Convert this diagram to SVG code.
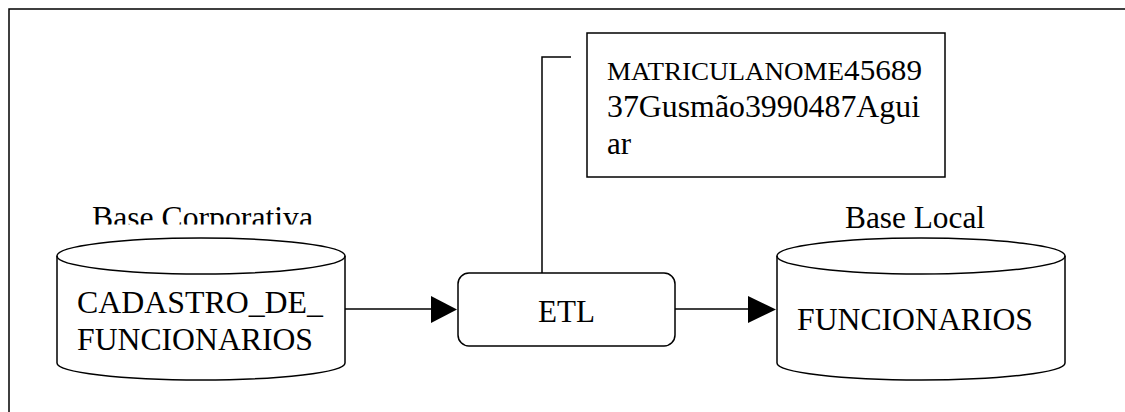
<svg xmlns="http://www.w3.org/2000/svg" width="1125" height="412" viewBox="0 0 1125 412">
<style>
.s{fill:none;stroke:#000;stroke-width:1.5}
.w{fill:#fff;stroke:#000;stroke-width:1.5}
.t{font-family:"Liberation Serif","Times New Roman",serif;fill:#000;font-size:31px}
</style>
<defs>
<clipPath id="clipBC"><rect x="0" y="180" width="400" height="44.5"/></clipPath>
</defs>
<rect x="0" y="0" width="1125" height="412" fill="#fff"/>
<rect id="frame" class="s" x="9" y="9" width="1140" height="430"/>
<g id="connectors">
<line class="s" x1="345" y1="309" x2="432" y2="309"/>
<polygon points="431,296 457,309.5 431,323" fill="#000"/>
<line class="s" x1="675" y1="309" x2="749" y2="309"/>
<polygon points="748,296 776,309.5 748,323" fill="#000"/>
<polyline class="s" points="542,273 542,57 571,57"/>
</g>
<g id="base-corporativa">
<text class="t" x="92" y="228" textLength="221" lengthAdjust="spacingAndGlyphs" clip-path="url(#clipBC)">Base Corporativa</text>
<path class="w" d="M57,256 A144,18 0 0 1 345,256 L345,363 A144,17 0 0 1 57,363 Z"/>
<path class="s" d="M57,256 A144,18 0 0 0 345,256"/>
<text class="t" x="77" y="313" font-size="30" textLength="246" lengthAdjust="spacingAndGlyphs">CADASTRO_DE_</text>
<text class="t" x="77" y="350" font-size="30" textLength="236" lengthAdjust="spacingAndGlyphs">FUNCIONARIOS</text>
</g>
<g id="etl">
<rect class="w" x="458" y="273" width="217" height="73" rx="11"/>
<text class="t" x="538" y="322" textLength="57" lengthAdjust="spacingAndGlyphs">ETL</text>
</g>
<g id="data-box">
<rect class="w" x="587" y="33" width="358" height="144"/>
<text class="t" x="607" y="80" textLength="315" lengthAdjust="spacingAndGlyphs"><tspan font-size="26">MATRICULANOME</tspan><tspan font-size="30">45689</tspan></text>
<text class="t" x="607" y="117" textLength="313" lengthAdjust="spacingAndGlyphs">37Gusmão3990487Agui</text>
<text class="t" x="607" y="154">ar</text>
</g>
<g id="base-local">
<text class="t" x="845" y="228" textLength="140" lengthAdjust="spacingAndGlyphs">Base Local</text>
<path class="w" d="M777,256 A144,18 0 0 1 1065,256 L1065,363 A144,17 0 0 1 777,363 Z"/>
<path class="s" d="M777,256 A144,18 0 0 0 1065,256"/>
<text class="t" x="797" y="330" font-size="30" textLength="236" lengthAdjust="spacingAndGlyphs">FUNCIONARIOS</text>
</g>
</svg>
